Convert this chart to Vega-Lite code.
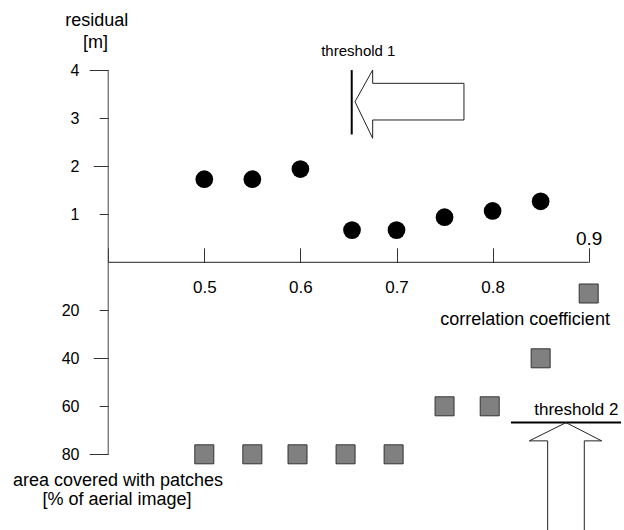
{
  "$schema": "https://vega.github.io/schema/vega-lite/v6.json",
  "width": 624,
  "height": 530,
  "autosize": "none",
  "padding": 0,
  "background": "white",
  "config": {"view": {"stroke": null}, "font": "Liberation Sans", "text": {"font": "Liberation Sans", "color": "black"}},
  "datasets": {
    "one": [{}],
    "residual": [
      {"cc": 0.5, "residual": 1.73},
      {"cc": 0.55, "residual": 1.73},
      {"cc": 0.6, "residual": 1.94},
      {"cc": 0.6537, "residual": 0.67},
      {"cc": 0.7, "residual": 0.67},
      {"cc": 0.75, "residual": 0.94},
      {"cc": 0.8, "residual": 1.07},
      {"cc": 0.85, "residual": 1.27}
    ],
    "area": [
      {"cc": 0.5, "area": 80},
      {"cc": 0.55, "area": 80},
      {"cc": 0.597, "area": 80},
      {"cc": 0.647, "area": 80},
      {"cc": 0.697, "area": 80},
      {"cc": 0.75, "area": 60},
      {"cc": 0.797, "area": 60},
      {"cc": 0.85, "area": 40},
      {"cc": 0.9, "area": 13}
    ],
    "arrow1": [
      {"o": 1, "cc": 0.6568, "residual": 3.342},
      {"o": 2, "cc": 0.6752, "residual": 4.002},
      {"o": 3, "cc": 0.6752, "residual": 3.725},
      {"o": 4, "cc": 0.7702, "residual": 3.725},
      {"o": 5, "cc": 0.7702, "residual": 2.962},
      {"o": 6, "cc": 0.6752, "residual": 2.962},
      {"o": 7, "cc": 0.6752, "residual": 2.581},
      {"o": 8, "cc": 0.6568, "residual": 3.342}
    ],
    "arrow2": [
      {"o": 1, "cc": 0.8573, "area": 120},
      {"o": 2, "cc": 0.8573, "area": 74.4},
      {"o": 3, "cc": 0.8382, "area": 74.4},
      {"o": 4, "cc": 0.8764, "area": 66.8},
      {"o": 5, "cc": 0.9135, "area": 74.4},
      {"o": 6, "cc": 0.8954, "area": 74.4},
      {"o": 7, "cc": 0.8954, "area": 120}
    ]
  },
  "layer": [
    {
      "layer": [
        {
          "data": {"name": "residual"},
          "mark": {"type": "circle", "size": 314, "color": "black", "opacity": 1},
          "encoding": {
            "x": {"field": "cc", "type": "quantitative", "scale": {"domain": [0.28741, 0.93673], "nice": false, "zero": false},
              "axis": {"orient": "top", "offset": -262.3, "values": [0.4, 0.5, 0.6, 0.7, 0.8, 0.9], "domain": false, "grid": false, "title": null,
                "tickSize": 14.5, "tickColor": "#333", "labelColor": "black", "labelFont": "Liberation Sans",
                "labelExpr": "datum.value < 0.45 ? '' : format(datum.value, '.1f')",
                "labelFontSize": {"condition": {"test": "datum.value > 0.85", "value": 19}, "value": 17},
                "labelPadding": {"condition": {"test": "datum.value > 0.85", "value": 9.5}, "value": -39.5},
                "labelBaseline": "middle", "labelFlush": false, "labelOverlap": false}},
            "y": {"field": "residual", "type": "quantitative", "scale": {"domain": [-5.571, 5.459], "nice": false, "zero": false},
              "axis": {"orient": "left", "offset": -108.2, "values": [1, 2, 3, 4], "domain": false, "grid": false, "title": null,
                "tickColor": "#333", "labelColor": "black", "labelFont": "Liberation Sans", "labelFontSize": 16, "labelFlush": false,
                "tickSize": {"condition": [{"test": "datum.value == 4", "value": 19}, {"test": "datum.value == 2", "value": 15}], "value": 9},
                "labelPadding": {"condition": [{"test": "datum.value == 4", "value": 10.2}, {"test": "datum.value == 2", "value": 14.2}], "value": 20.2}}}
          }
        },
        {
          "data": {"name": "one"},
          "mark": {"type": "rule", "color": "#222", "strokeWidth": 1},
          "encoding": {
            "x": {"datum": 0.4, "type": "quantitative", "scale": {"domain": [0.28741, 0.93673], "nice": false, "zero": false}},
            "x2": {"datum": 0.9},
            "y": {"datum": 0, "type": "quantitative", "scale": {"domain": [-5.571, 5.459], "nice": false, "zero": false}}
          }
        },
        {
          "data": {"name": "one"},
          "mark": {"type": "rule", "color": "#444", "strokeWidth": 1},
          "encoding": {
            "x": {"datum": 0.4, "type": "quantitative", "scale": {"domain": [0.28741, 0.93673], "nice": false, "zero": false}},
            "y": {"datum": 4, "type": "quantitative", "scale": {"domain": [-5.571, 5.459], "nice": false, "zero": false}},
            "y2": {"datum": -4}
          }
        },
        {
          "data": {"name": "one"},
          "mark": {"type": "rule", "color": "black", "strokeWidth": 2},
          "encoding": {
            "x": {"datum": 0.6534, "type": "quantitative", "scale": {"domain": [0.28741, 0.93673], "nice": false, "zero": false}},
            "y": {"datum": 4.0, "type": "quantitative", "scale": {"domain": [-5.571, 5.459], "nice": false, "zero": false}},
            "y2": {"datum": 2.66}
          }
        },
        {
          "data": {"name": "arrow1"},
          "mark": {"type": "line", "color": "#222", "strokeWidth": 1},
          "encoding": {
            "x": {"field": "cc", "type": "quantitative", "scale": {"domain": [0.28741, 0.93673], "nice": false, "zero": false}},
            "y": {"field": "residual", "type": "quantitative", "scale": {"domain": [-5.571, 5.459], "nice": false, "zero": false}},
            "order": {"field": "o", "type": "quantitative"}
          }
        },
        {
          "data": {"name": "one"},
          "mark": {"type": "text", "fontSize": 18, "align": "center", "baseline": "alphabetic"},
          "encoding": {
            "x": {"datum": 0.38803, "type": "quantitative", "scale": {"domain": [0.28741, 0.93673], "nice": false, "zero": false}},
            "y": {"datum": 4.918, "type": "quantitative", "scale": {"domain": [-5.571, 5.459], "nice": false, "zero": false}},
            "text": {"value": "residual"}
          }
        },
        {
          "data": {"name": "one"},
          "mark": {"type": "text", "fontSize": 18, "align": "center", "baseline": "alphabetic"},
          "encoding": {
            "x": {"datum": 0.38678, "type": "quantitative", "scale": {"domain": [0.28741, 0.93673], "nice": false, "zero": false}},
            "y": {"datum": 4.46, "type": "quantitative", "scale": {"domain": [-5.571, 5.459], "nice": false, "zero": false}},
            "text": {"value": "[m]"}
          }
        },
        {
          "data": {"name": "one"},
          "mark": {"type": "text", "fontSize": 15, "align": "center", "baseline": "alphabetic"},
          "encoding": {
            "x": {"datum": 0.66025, "type": "quantitative", "scale": {"domain": [0.28741, 0.93673], "nice": false, "zero": false}},
            "y": {"datum": 4.293, "type": "quantitative", "scale": {"domain": [-5.571, 5.459], "nice": false, "zero": false}},
            "text": {"value": "threshold 1"}
          }
        }
      ]
    },
    {
      "layer": [
        {
          "data": {"name": "area"},
          "mark": {"type": "square", "size": 361, "fill": "#808080", "stroke": "#333", "strokeWidth": 1, "opacity": 1, "fillOpacity": 1},
          "encoding": {
            "x": {"field": "cc", "type": "quantitative", "scale": {"domain": [0.28741, 0.93673], "nice": false, "zero": false}},
            "y": {"field": "area", "type": "quantitative", "scale": {"domain": [-109.29, 111.54], "reverse": true, "nice": false, "zero": false},
              "axis": {"orient": "left", "offset": -108.2, "values": [20, 40, 60, 80], "domain": false, "grid": false, "title": null,
                "tickColor": "#333", "labelColor": "black", "labelFont": "Liberation Sans", "labelFontSize": 16, "labelFlush": false,
                "tickSize": {"condition": [{"test": "datum.value == 80", "value": 19}, {"test": "datum.value == 40", "value": 15}], "value": 9},
                "labelPadding": {"condition": [{"test": "datum.value == 80", "value": 10.2}, {"test": "datum.value == 40", "value": 14.2}], "value": 20.2}}}
          }
        },
        {
          "data": {"name": "one"},
          "mark": {"type": "rule", "color": "black", "strokeWidth": 2},
          "encoding": {
            "x": {"datum": 0.8191, "type": "quantitative", "scale": {"domain": [0.28741, 0.93673], "nice": false, "zero": false}},
            "x2": {"datum": 0.9336},
            "y": {"datum": 66.7, "type": "quantitative", "scale": {"domain": [-109.29, 111.54], "reverse": true, "nice": false, "zero": false}}
          }
        },
        {
          "data": {"name": "arrow2"},
          "mark": {"type": "line", "color": "#222", "strokeWidth": 1},
          "encoding": {
            "x": {"field": "cc", "type": "quantitative", "scale": {"domain": [0.28741, 0.93673], "nice": false, "zero": false}},
            "y": {"field": "area", "type": "quantitative", "scale": {"domain": [-109.29, 111.54], "reverse": true, "nice": false, "zero": false}},
            "order": {"field": "o", "type": "quantitative"}
          }
        },
        {
          "data": {"name": "one"},
          "mark": {"type": "text", "fontSize": 18, "align": "center", "baseline": "alphabetic"},
          "encoding": {
            "x": {"datum": 0.4102, "type": "quantitative", "scale": {"domain": [0.28741, 0.93673], "nice": false, "zero": false}},
            "y": {"datum": 93.0, "type": "quantitative", "scale": {"domain": [-109.29, 111.54], "reverse": true, "nice": false, "zero": false}},
            "text": {"value": "area covered with patches"}
          }
        },
        {
          "data": {"name": "one"},
          "mark": {"type": "text", "fontSize": 18, "align": "center", "baseline": "alphabetic"},
          "encoding": {
            "x": {"datum": 0.40916, "type": "quantitative", "scale": {"domain": [0.28741, 0.93673], "nice": false, "zero": false}},
            "y": {"datum": 101.1, "type": "quantitative", "scale": {"domain": [-109.29, 111.54], "reverse": true, "nice": false, "zero": false}},
            "text": {"value": "[% of aerial image]"}
          }
        },
        {
          "data": {"name": "one"},
          "mark": {"type": "text", "fontSize": 18, "align": "center", "baseline": "alphabetic"},
          "encoding": {
            "x": {"datum": 0.83372, "type": "quantitative", "scale": {"domain": [0.28741, 0.93673], "nice": false, "zero": false}},
            "y": {"datum": 26.1, "type": "quantitative", "scale": {"domain": [-109.29, 111.54], "reverse": true, "nice": false, "zero": false}},
            "text": {"value": "correlation coefficient"}
          }
        },
        {
          "data": {"name": "one"},
          "mark": {"type": "text", "fontSize": 17, "align": "center", "baseline": "alphabetic"},
          "encoding": {
            "x": {"datum": 0.8871, "type": "quantitative", "scale": {"domain": [0.28741, 0.93673], "nice": false, "zero": false}},
            "y": {"datum": 63.6, "type": "quantitative", "scale": {"domain": [-109.29, 111.54], "reverse": true, "nice": false, "zero": false}},
            "text": {"value": "threshold 2"}
          }
        }
      ]
    }
  ],
  "resolve": {"scale": {"y": "independent"}, "axis": {"y": "independent"}}
}
